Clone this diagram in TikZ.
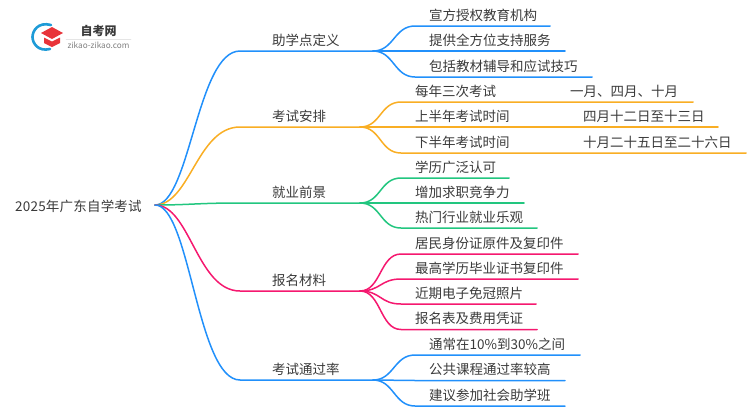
\documentclass[tikz,border=0pt]{standalone}
\usepackage{fontspec}
\setmainfont{Noto Sans CJK SC}
\definecolor{blueline}{HTML}{2190FB}
\definecolor{orangeline}{HTML}{F9AE24}
\definecolor{greenline}{HTML}{22C67F}
\definecolor{pinkline}{HTML}{F5186F}
\definecolor{inktext}{HTML}{3A3A3A}
\definecolor{logoblue}{HTML}{1E9BD7}
\definecolor{logored}{HTML}{E8343A}
\tikzset{
	label/.style={anchor=base west,inner sep=0pt,text=inktext,font=\fontsize{13.5}{15}\selectfont},
	branch/.style={line width=1.5pt},
}
\begin{document}
\begin{tikzpicture}[x=1pt,y=-1pt,line join=round,line cap=round]
	\useasboundingbox (0,0) rectangle (750,410);
	% logo
	\draw[logoblue,line width=2.6pt] (51,25) .. controls (38,21.5) and (32.5,31) .. (32.5,37) .. controls (32.5,43) and (38,52) .. (50,49);
	\fill[logored] (52,27) -- (63,33) -- (52,39) -- (41,33) -- cycle;
	\fill[logored] (44,37.5) -- (52,41.5) -- (60,37.5) -- (60,43) -- (52,47) -- (44,43) -- cycle;
	\draw[black!10,line width=0.5pt] (66,39) -- (131,39);
	\node (logotitle) [anchor=center,inner sep=0pt,text=inktext,font=\fontsize{12}{13}\bfseries\selectfont] at (98.5,31) {自考网};
	\node (logourl) [anchor=center,inner sep=0pt,text=black!50,font=\fontsize{8.2}{9}\selectfont] at (98.5,45) {zikao-zikao.com};
	% root
	\coordinate (root) at (155,205);
	\node (roottext) [label] at (15,211) {\addfontfeature{LetterSpace=1.5}2025年广东自学考试};
	% main branches
	\foreach \name/\col/\yy/\hub/\txt in {
		def/blueline/51/373/助学点定义,
		plan/orangeline/127/360/考试安排,
		job/greenline/203/360/就业前景,
		doc/pinkline/291/360/报名材料,
		rate/blueline/380/373/考试通过率} {
		\coordinate (\name hub) at (\hub,\yy);
		\coordinate (\name bend) at (240,\yy);
		\draw[branch,\col] (root) .. controls (190,205) and (197,\yy) .. (\name bend) -- (\name hub);
		\node (\name text) [label] at (272,\yy-6) {\txt};
	}
	% leaves
	\foreach \name/\parent/\col/\yy/\xend/\xt/\txt in {
		defa/def/blueline/26/550/429/宣方授权教育机构,
		defb/def/blueline/51/565/429/提供全方位支持服务,
		defc/def/blueline/77/592/429/包括教材辅导和应试技巧,
		plana/plan/orangeline/102/693/415/每年三次考试,
		planb/plan/orangeline/127/718/415/上半年考试时间,
		planc/plan/orangeline/153/746/415/下半年考试时间,
		joba/job/greenline/178/509/415/学历广泛认可,
		jobb/job/greenline/203/524/415/增加求职竞争力,
		jobc/job/greenline/228/537/415/热门行业就业乐观,
		doca/doc/pinkline/254/578/415/居民身份证原件及复印件,
		docb/doc/pinkline/279/578/415/最高学历毕业证书复印件,
		docc/doc/pinkline/304/536/415/近期电子免冠照片,
		docd/doc/pinkline/329.5/537/415/报名表及费用凭证,
		ratea/rate/blueline/355/580/429/通常在10\%到30\%之间,
		rateb/rate/blueline/380.5/565/429/公共课程通过率较高,
		ratec/rate/blueline/406/565/429/建议参加社会助学班} {
		\coordinate (\name start) at (\xt-14,\yy);
		\coordinate (\name end) at (\xend,\yy);
		\draw[branch,\col] (\parent hub) .. controls ([xshift=21pt]\parent hub) and ([xshift=-21pt]\name start) .. (\name start) -- (\name end);
		\node (\name text) [label] at (\xt,\yy-6) {\txt};
	}
	% second column of the exam plan
	\node (planamonth) [label] at (570,96) {一月、四月、十月};
	\node (planbdate) [label] at (583,121) {四月十二日至十三日};
	\node (plancdate) [label] at (583,147) {十月二十五日至二十六日};
\end{tikzpicture}
\end{document}
